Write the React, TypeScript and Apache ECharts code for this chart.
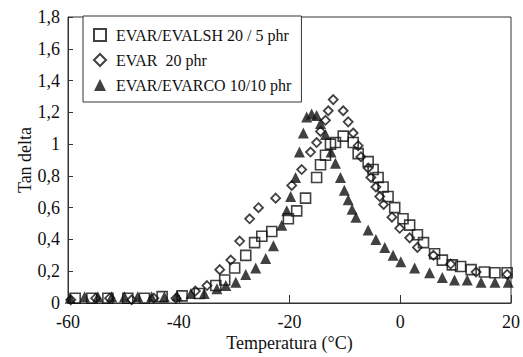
import React, { useEffect, useRef } from "react";
import * as echarts from "echarts";

const xTicks = [-60, -40, -20, 0, 20];

const squareT = [-58.7, -55.7, -52.8, -49.2, -46.2, -43.0, -39.4, -36.3, -33.3, -31.7, -29.9, -27.9, -26.3, -25.0, -23.2, -20.2, -18.7, -17.1, -15.1, -14.4, -13.5, -12.6, -11.7, -10.3, -8.5, -7.6, -5.8, -4.9, -4.0, -3.1, -2.2, -1.0, 0.5, 1.7, 3.1, 4.2, 6.2, 7.6, 9.4, 10.9, 12.8, 15.2, 17.1, 19.3];
const squareV = [0.03, 0.03, 0.03, 0.03, 0.03, 0.04, 0.045, 0.06, 0.11, 0.145, 0.22, 0.30, 0.38, 0.42, 0.45, 0.53, 0.58, 0.66, 0.79, 0.87, 0.93, 1.0, 1.01, 1.05, 1.01, 0.94, 0.89, 0.84, 0.79, 0.73, 0.67, 0.60, 0.53, 0.49, 0.43, 0.38, 0.31, 0.27, 0.24, 0.23, 0.21, 0.195, 0.19, 0.19];

const diamondT = [-59.5, -55.0, -52.5, -48.5, -44.5, -40.5, -37.0, -34.9, -32.6, -30.6, -29.0, -27.2, -25.6, -22.5, -19.6, -17.8, -16.2, -15.1, -14.4, -13.5, -13.0, -12.1, -10.3, -9.4, -8.5, -7.6, -7.1, -5.8, -5.3, -4.4, -3.7, -3.0, -1.5, -0.1, 1.7, 3.1, 6.0, 9.1, 13.7, 19.3];
const diamondV = [0.02, 0.03, 0.03, 0.02, 0.03, 0.03, 0.075, 0.11, 0.21, 0.27, 0.39, 0.53, 0.60, 0.66, 0.74, 0.84, 0.95, 1.01, 1.08, 1.15, 1.21, 1.28, 1.21, 1.14, 1.07, 0.99, 0.92, 0.85, 0.79, 0.73, 0.67, 0.62, 0.54, 0.47, 0.41, 0.35, 0.30, 0.245, 0.195, 0.18];

const triangleT = [-59.6, -57.0, -54.6, -52.1, -49.8, -47.4, -44.9, -42.6, -40.3, -37.8, -35.4, -33.1, -31.5, -29.7, -27.9, -26.1, -24.3, -22.9, -21.4, -20.5, -19.8, -18.9, -18.2, -17.5, -16.9, -16.0, -15.1, -14.4, -13.5, -12.5, -11.7, -10.8, -10.1, -9.4, -8.7, -8.0, -5.8, -4.4, -2.8, -1.3, 0.1, 2.6, 5.3, 7.6, 9.8, 12.1, 14.6, 17.1, 19.5];
const triangleV = [0.03, 0.04, 0.04, 0.04, 0.04, 0.04, 0.04, 0.04, 0.045, 0.06, 0.06, 0.09, 0.11, 0.13, 0.18, 0.22, 0.28, 0.36, 0.49, 0.58, 0.67, 0.79, 0.95, 1.07, 1.17, 1.19, 1.18, 1.13, 1.06, 0.95, 0.88, 0.79, 0.71, 0.65, 0.59, 0.54, 0.46, 0.40, 0.35, 0.30, 0.26, 0.22, 0.19, 0.16, 0.145, 0.145, 0.13, 0.13, 0.13];

const seriesNames = ["EVAR/EVALSH 20 / 5 phr", "EVAR  20 phr", "EVAR/EVARCO 10/10 phr"];

const zip = (a: number[], b: number[]) => a.map((v, i) => [v, b[i]]);

const FONT = "'Liberation Serif', 'DejaVu Serif', serif";
const INK = "#111";

export default function App() {
  const ref = useRef<HTMLDivElement>(null);
  useEffect(() => {
    if (!ref.current) return;
    const chart = echarts.init(ref.current, null, { renderer: "svg" });
    chart.setOption({
      animation: false,
      backgroundColor: "#fff",
      textStyle: { fontFamily: FONT, color: INK },
      grid: {
        left: 68,
        right: 9,
        top: 17,
        bottom: 54,
        show: true,
        borderColor: "#333",
        borderWidth: 1,
      },
      legend: {
        left: 83,
        top: 16,
        orient: "vertical",
        backgroundColor: "#fff",
        borderColor: "#333",
        borderWidth: 1,
        borderRadius: 0,
        padding: [11, 10, 9, 10],
        itemGap: 9,
        itemWidth: 12,
        itemHeight: 12,
        textStyle: { fontFamily: FONT, fontSize: 16, color: INK, lineHeight: 16, padding: [0, 0, 0, 5] },
        data: seriesNames,
      },
      xAxis: {
        type: "value",
        min: -60,
        max: 20,
        interval: 20,
        name: "Temperatura (°C)",
        nameLocation: "middle",
        nameGap: 31,
        nameMoveOverlap: false,
        nameTextStyle: { fontFamily: FONT, fontSize: 18, color: INK },
        axisLine: { show: true, onZero: false, lineStyle: { color: "#333", width: 1 } },
        axisTick: { show: true, inside: true, length: 8, lineStyle: { color: "#333" } },
        axisLabel: {
          fontFamily: FONT,
          fontSize: 18,
          color: INK,
          margin: 10,
          formatter: (v: number) => (xTicks.includes(v) ? String(v) : ""),
        },
        splitLine: { show: false },
      },
      yAxis: {
        type: "value",
        min: 0,
        max: 1.8,
        interval: 0.2,
        name: "Tan delta",
        nameLocation: "middle",
        nameGap: 34,
        nameMoveOverlap: false,
        nameTextStyle: { fontFamily: FONT, fontSize: 18, color: INK },
        axisLine: { show: true, onZero: false, lineStyle: { color: "#333", width: 1 } },
        axisTick: { show: true, inside: true, length: 5, lineStyle: { color: "#333" } },
        axisLabel: {
          fontFamily: FONT,
          fontSize: 18,
          color: INK,
          margin: 8,
          formatter: (v: number) => String(Math.round(v * 10) / 10).replace(".", ","),
        },
        splitLine: { show: false },
      },
      series: [
        {
          name: seriesNames[0],
          type: "scatter",
          symbol: "rect",
          symbolSize: 10,
          itemStyle: { color: "rgba(255,255,255,0)", borderColor: INK, borderWidth: 1.6 },
          data: zip(squareT, squareV),
          z: 2,
        },
        {
          name: seriesNames[1],
          type: "scatter",
          symbol: "diamond",
          symbolSize: 9,
          itemStyle: { color: "rgba(255,255,255,0)", borderColor: INK, borderWidth: 1.8 },
          data: zip(diamondT, diamondV),
          z: 3,
        },
        {
          name: seriesNames[2],
          type: "scatter",
          symbol: "triangle",
          symbolSize: [11, 11],
          itemStyle: { color: INK },
          data: zip(triangleT, triangleV),
          z: 4,
        },
      ],
    });
    return () => chart.dispose();
  }, []);
  return <div ref={ref} style={{ position: "fixed", left: 0, top: 0, width: 523, height: 357 }} />;
}
